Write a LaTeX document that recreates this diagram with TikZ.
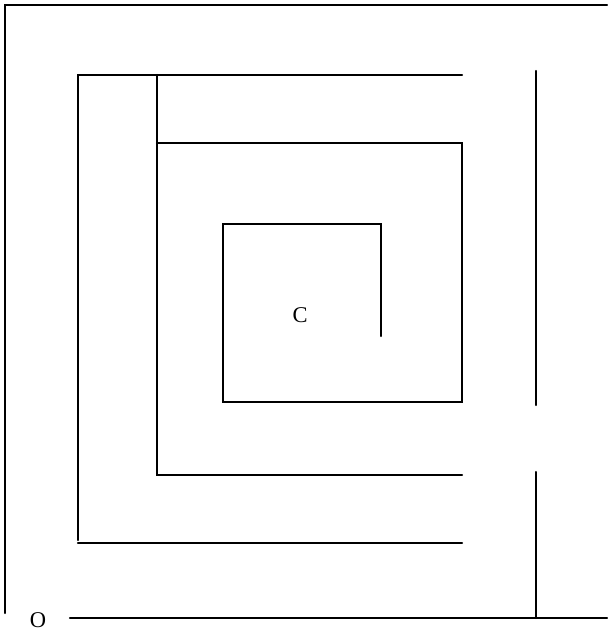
\documentclass[tikz,border=0pt]{standalone}
\usepackage{fontspec}
\setmainfont{Liberation Serif}
\usetikzlibrary{positioning}
\begin{document}
\begin{tikzpicture}[x=0.025cm, y=-0.025cm,
    wall/.style={line width=1.5pt, line cap=round, line join=miter},
    lbl/.style={font=\fontsize{16}{18}\selectfont, inner sep=0pt}
]
\useasboundingbox (0,0) rectangle (607,631);
% outer walls
\draw[wall] (5,613) -- (5,5) -- (607,5);
\draw[wall] (70,618) -- (607,618);
\draw[wall] (536,71) -- (536,405);
\draw[wall] (536,472) -- (536,618);
% second ring
\draw[wall] (462,75) -- (78,75) -- (78,540);
\draw[wall] (78,543) -- (462,543);
\draw[wall] (157,75) -- (157,475) -- (462,475);
% third ring
\draw[wall] (157,143) -- (462,143) -- (462,402) -- (223,402) -- (223,224) -- (381,224) -- (381,336);
% labels
\node[lbl] (o) at (38,620) {O};
\node[lbl] (c) at (300,315) {C};
\end{tikzpicture}
\end{document}
